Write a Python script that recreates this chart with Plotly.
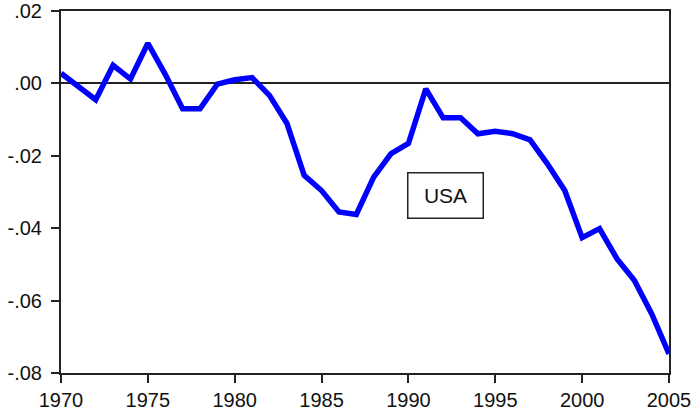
import plotly.graph_objects as go

years = list(range(1970, 2006))
usa = [0.0028, -0.0010, -0.0045, 0.0050, 0.0012, 0.0111, 0.0025, -0.0070, -0.0070, -0.0002,
       0.0010, 0.0016, -0.0033, -0.0110, -0.0254, -0.0296, -0.0355, -0.0362, -0.0259, -0.0194,
       -0.0166, -0.0015, -0.0095, -0.0095, -0.0139, -0.0132, -0.0139, -0.0156, -0.0222, -0.0296,
       -0.0426, -0.0401, -0.0484, -0.0544, -0.0636, -0.0747]

y_tickvals = [0.02, 0.0, -0.02, -0.04, -0.06, -0.08]
y_ticktext = [".02", ".00", "-.02", "-.04", "-.06", "-.08"]
x_tickvals = [1970, 1975, 1980, 1985, 1990, 1995, 2000, 2005]
x_ticktext = ["1970", "1975", "1980", "1985", "1990", "1995", "2000", "2005"]

font = dict(family="Liberation Sans, Arial, sans-serif", size=20, color="#111")

fig = go.Figure()
fig.add_trace(go.Scatter(x=years, y=usa, mode="lines",
                         line=dict(color="#0000FF", width=5.5), showlegend=False))

fig.update_layout(
    width=693, height=411,
    margin=dict(l=61, r=24, t=11, b=38, autoexpand=False),
    paper_bgcolor="white", plot_bgcolor="white",
    font=font,
)
fig.update_xaxes(range=[1970, 2005], tickvals=x_tickvals, ticktext=x_ticktext,
                 ticks="outside", ticklen=8, tickwidth=2, tickcolor="#222",
                 showline=True, linewidth=2, linecolor="#222", mirror=True,
                 showgrid=False, zeroline=False, tickfont=font, automargin=False)
fig.update_yaxes(range=[-0.08, 0.02], tickvals=y_tickvals, ticktext=y_ticktext,
                 ticks="outside", ticklen=8, tickwidth=2, tickcolor="#222",
                 showline=True, linewidth=2, linecolor="#222", mirror=True,
                 showgrid=False, zeroline=True, zerolinecolor="#222", zerolinewidth=1.5,
                 ticklabelstandoff=5, tickfont=font, automargin=False)

fig.add_annotation(x=1992.16, y=-0.0311, xref="x", yref="y", text="USA",
                   showarrow=False, font=dict(family=font["family"], size=21, color="#111"),
                   bordercolor="#222", borderwidth=1.5,
                   borderpad=1, width=72, height=42, bgcolor="white")

fig.write_html("out.html", config={"displayModeBar": False},
               post_script="document.body.style.margin='0px';document.body.style.padding='0px';document.body.style.overflow='hidden';")
